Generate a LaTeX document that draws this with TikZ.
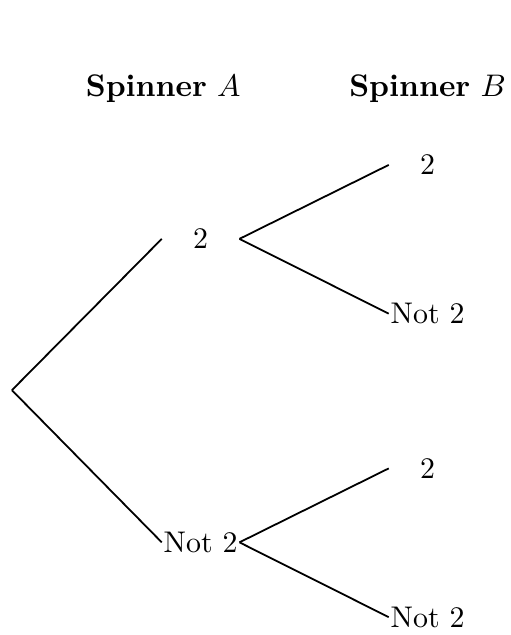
\documentclass[tikz,border=0pt]{standalone}
\begin{document}
\begin{tikzpicture}[esito/.style={minimum width=0.9cm, inner sep=0pt},
    titolo/.style={anchor=base, scale=1.045, transform shape}]
    \useasboundingbox (0,0) rectangle (6.01,-7.47);
    
    % Intestazioni
    \node[titolo] (titA) at (1.92,-1.14) {\textbf{Spinner} $A$};
    \node[titolo] (titB) at (5.03,-1.14) {\textbf{Spinner} $B$};
    
    % Radice
    \coordinate (r) at (0.14,-4.59);
    
    % Spinner A
    \node[esito] (a2) at (2.36,-2.81) {2};
    \node[esito] (an) at (2.36,-6.38) {Not 2};
    
    % Spinner B
    \node[esito] (b2) at (5.03,-1.94) {2};
    \node[esito] (bn) at (5.03,-3.69) {Not 2};
    \node[esito] (c2) at (5.03,-5.51) {2};
    \node[esito] (cn) at (5.03,-7.26) {Not 2};
    
    % Rami
    \draw[semithick] (r) -- (a2.west);
    \draw[semithick] (r) -- (an.west);
    \draw[semithick] (a2.east) -- (b2.west);
    \draw[semithick] (a2.east) -- (bn.west);
    \draw[semithick] (an.east) -- (c2.west);
    \draw[semithick] (an.east) -- (cn.west);
    
\end{tikzpicture}
\end{document}
